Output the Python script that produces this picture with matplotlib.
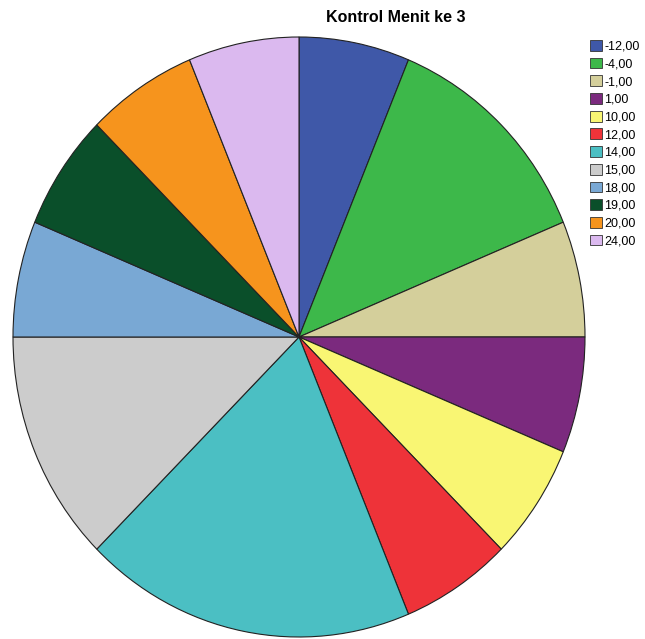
import matplotlib.pyplot as plt
from matplotlib.patches import Patch

labels = ["-12,00", "-4,00", "-1,00", "1,00", "10,00", "12,00",
          "14,00", "15,00", "18,00", "19,00", "20,00", "24,00"]
counts = [1, 2, 1, 1, 1, 1, 3, 2, 1, 1, 1, 1]
colors = ["#3f58a8", "#3db84a", "#d4cf9b", "#7b2a7e", "#f9f673", "#ee3339",
          "#4bbfc3", "#cccccc", "#79a8d4", "#0a4f2a", "#f6941d", "#dbb9ef"]

W, H = 645, 639
fig = plt.figure(figsize=(W / 100, H / 100), dpi=100)
# pie is drawn slightly taller than wide in the reference
cx, cy, rx, ry = 299, 337, 286, 300
ax = fig.add_axes([(cx - rx) / W, (H - cy - ry) / H, 2 * rx / W, 2 * ry / H])
ax.pie(counts, colors=colors, startangle=90, counterclock=False,
       wedgeprops=dict(edgecolor="#222222", linewidth=0.8))
ax.set_aspect("auto")
ax.set_xlim(-1, 1)
ax.set_ylim(-1, 1)

fig.text(396 / W, 1 - 17 / H, "Kontrol Menit ke 3", ha="center", va="center",
         fontsize=11.5, fontweight="bold", family="Liberation Sans")

handles = [Patch(facecolor=c, edgecolor="#333333", linewidth=0.6) for c in colors]
fig.legend(handles, labels, loc="upper left", bbox_to_anchor=(585 / W, 1 - 35 / H),
           frameon=False, handlelength=0.95, handleheight=0.95,
           handletextpad=0.2, labelspacing=0.4, borderaxespad=0,
           prop={"family": "Liberation Sans", "size": 9})

fig.savefig("out.png", dpi=100)
